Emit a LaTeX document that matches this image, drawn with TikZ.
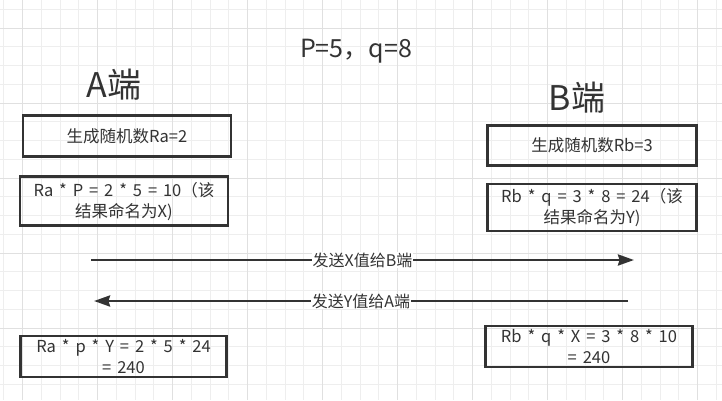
\documentclass[tikz,border=0pt]{standalone}
\usepackage{fontspec}
\setmainfont{Noto Sans CJK SC}[WordSpace=1.6]
\usetikzlibrary{arrows.meta}
\definecolor{ink}{HTML}{333333}
\definecolor{gridminor}{HTML}{EEEEEE}
\definecolor{gridmajor}{HTML}{E0E0E0}
\tikzset{
  box/.style={draw=ink, line width=2.5pt, rectangle, inner sep=0pt, align=center,
    text=ink, font=\fontsize{16.5}{21}\selectfont},
  conn/.style={draw=ink, line width=2.6pt, -{Stealth[length=16pt,width=11pt,inset=1.5pt]}},
  lbl/.style={fill=white, text=ink, inner sep=1pt, font=\fontsize{16}{20}\selectfont},
  hdr/.style={text=ink, inner sep=0pt, anchor=base}
}
\begin{document}
\begin{tikzpicture}[x=1pt,y=-1pt]
\useasboundingbox (0,0) rectangle (722,400);
\fill[white] (0,0) rectangle (722,400);
% grid
\foreach \i in {0,...,38} {
  \draw[gridminor, line width=1pt] ({3.95+18.75*\i},0) -- ({3.95+18.75*\i},400);
}
\foreach \j in {0,...,21} {
  \draw[gridminor, line width=1pt] (0,{9.25+18.75*\j}) -- (722,{9.25+18.75*\j});
}
\foreach \i in {0,...,9} {
  \draw[gridmajor, line width=1pt] ({22.7+75*\i},0) -- ({22.7+75*\i},400);
}
\foreach \j in {0,...,5} {
  \draw[gridmajor, line width=1pt] (0,{28+75*\j}) -- (722,{28+75*\j});
}
% headers
\node[hdr, font=\fontsize{25}{30}\selectfont] (title) at (356,57) {P=5，q=8};
\node[hdr, font=\fontsize{34}{40}\selectfont] (aend) at (114,97) {A端};
\node[hdr, font=\fontsize{34}{40}\selectfont] (bend) at (577,110) {B端};
% boxes
\node[box, minimum width=208pt, minimum height=41pt] (ra) at (127,136.2) {生成随机数Ra=2};
\node[box, minimum width=208pt, minimum height=49pt] (rax) at (124,201.2) {Ra * P = 2 * 5 = 10（该\\结果命名为X)};
\node[box, minimum width=209pt, minimum height=40pt] (rb) at (592,145.7) {生成随机数Rb=3};
\node[box, minimum width=209pt, minimum height=47pt] (rbx) at (592,207.4) {Rb * q = 3 * 8 = 24（该\\结果命名为Y)};
\node[box, minimum width=206pt, minimum height=41pt] (ay) at (123.5,356.4) {Ra * p * Y = 2 * 5 * 24\\= 240};
\node[box, minimum width=207pt, minimum height=41pt] (bx) at (589,346.4) {Rb * q * X = 3 * 8 * 10\\= 240};
% connectors
\coordinate (a1s) at (91,260);
\coordinate (a1e) at (634,260);
\coordinate (a2s) at (628,301);
\coordinate (a2e) at (94,301);
\draw[conn] (a1s) -- node[lbl] (l1) {发送X值给B端} (a1e);
\draw[conn] (a2s) -- node[lbl] (l2) {发送Y值给A端} (a2e);
\end{tikzpicture}
\end{document}
